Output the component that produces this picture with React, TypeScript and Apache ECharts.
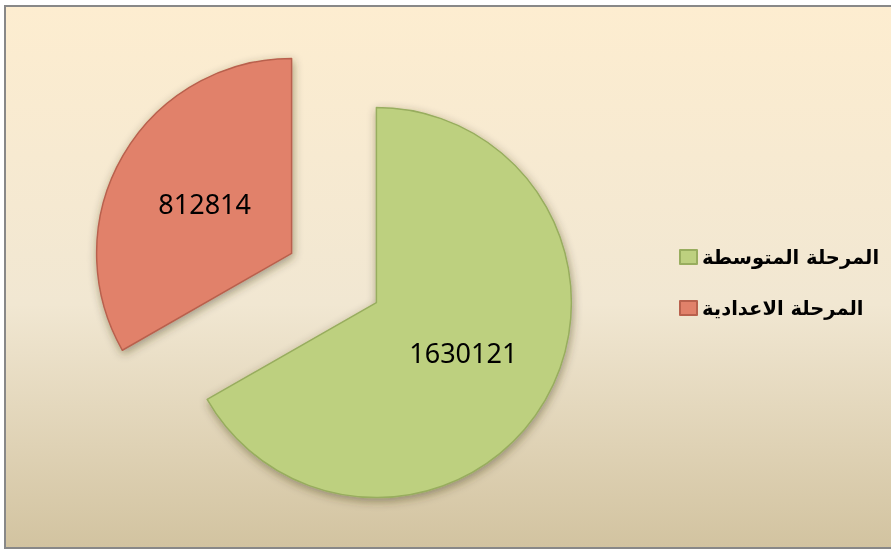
import React, { useEffect, useRef } from "react";
import * as echarts from "echarts";

const categories = ["المرحلة المتوسطة", "المرحلة الاعدادية"];
const values = [1630121, 812814];
const colors = ["#BDD07F", "#E1816A"];
const borderColors = ["#98AD5E", "#B9614D"];

export default function App() {
  const ref = useRef<HTMLDivElement>(null);
  useEffect(() => {
    if (!ref.current) return;
    const chart = echarts.init(ref.current, undefined, { renderer: "svg" });
    chart.setOption({
      animation: false,
      graphic: [
        {
          type: "rect",
          z: -10,
          silent: true,
          shape: { x: 5, y: 6, width: 900, height: 542 },
          style: {
            fill: new echarts.graphic.LinearGradient(0, 0, 0, 1, [
              { offset: 0, color: "#FDEDD0" },
              { offset: 0.55, color: "#F1E7D2" },
              { offset: 1, color: "#D2C3A0" },
            ]),
            stroke: "#888888",
            lineWidth: 2,
          },
        },
      ],
      legend: {
        orient: "vertical",
        left: 674,
        top: 240,
        itemWidth: 17,
        itemHeight: 14,
        itemGap: 27,
        icon: "rect",
        data: categories,
        textStyle: {
          fontFamily: "DejaVu Sans",
          fontWeight: "bold",
          fontSize: 19.5,
          lineHeight: 24,
          color: "#000",
        },
      },
      series: [
        {
          type: "pie",
          center: [334, 278],
          radius: 195,
          startAngle: 90,
          clockwise: true,
          selectedMode: "multiple",
          selectedOffset: 49,
          emphasis: { disabled: true },
          label: {
            show: true,
            position: "inside",
            formatter: "{c}",
            fontFamily: "Noto Sans",
            fontSize: 27,
            color: "#000",
          },
          labelLine: { show: false },
          data: categories.map((name, i) => ({
            name,
            value: values[i],
            selected: true,
            itemStyle: {
              color: colors[i],
              borderColor: borderColors[i],
              borderWidth: 1.5,
              shadowBlur: 10,
              shadowOffsetX: 1,
              shadowOffsetY: 3,
              shadowColor: "rgba(60,50,20,0.45)",
            },
          })),
        },
      ],
    });
    return () => chart.dispose();
  }, []);
  return (
    <div
      ref={ref}
      style={{ position: "fixed", left: 0, top: 0, width: 891, height: 550 }}
    />
  );
}
